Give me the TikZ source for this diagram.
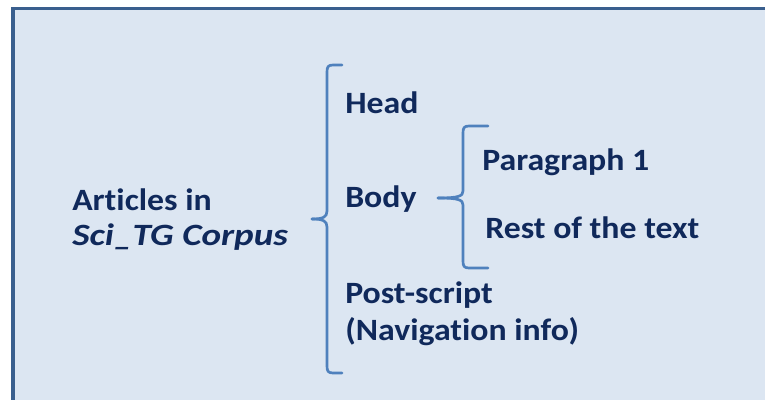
\documentclass[tikz,border=0pt]{standalone}
\usepackage{fontspec}
\setmainfont{Carlito}[FakeStretch=1.09,Ligatures=NoCommon]
\definecolor{bgfill}{HTML}{DCE6F2}
\definecolor{frame}{HTML}{3A5F8E}
\definecolor{txt}{HTML}{10295B}
\definecolor{brace}{HTML}{4F81BD}
\begin{document}
\begin{tikzpicture}[x=0.75pt,y=-0.75pt,
  lbl/.style={anchor=base west,inner sep=0pt,text=txt,font=\fontsize{23.25}{27.5}\selectfont\bfseries},
  bracepath/.style={draw=brace,line width=2pt,line cap=round,line join=round}]
\useasboundingbox (0,0) rectangle (765,400);
\fill[white] (0,0) rectangle (765,400);
\draw[fill=bgfill,draw=frame,line width=2.4pt] (13,8.5) rectangle (775,410);
% texts
\node[lbl] (articles) at (72,210) {Art\kern0pt icles in};
\node[lbl] (corpus) at (72,245) {\scalebox{1.1}[1]{\textit{Sci\_TG Corpus}}};
\node[lbl] (head) at (345,113) {Head};
\node[lbl] (body) at (345,207) {Body};
\node[lbl] (post) at (345,303) {Post-script};
\node[lbl] (nav) at (345,340) {(Navigat\kern0pt ion info)};
\node[lbl] (para) at (482,170) {Paragraph 1};
\node[lbl] (rest) at (485,238) {Rest of the text};
% big brace
\coordinate (b1top) at (342,65);
\coordinate (b1tip) at (312,219);
\coordinate (b1bot) at (342,373);
\draw[bracepath] (b1top) -- (333,65) .. controls (328,65) and (327,67) .. (327,72) -- (327,211)
  .. controls (327,217) and (323,219) .. (b1tip);
\draw[bracepath] (b1bot) -- (333,373) .. controls (328,373) and (327,371) .. (327,366) -- (327,227)
  .. controls (327,221) and (323,219) .. (b1tip);
% small brace
\coordinate (b2top) at (488,126);
\coordinate (b2tip) at (438,198);
\coordinate (b2bot) at (488,268);
\draw[bracepath] (b2top) -- (469,126) .. controls (464,126) and (463,128) .. (463,133) -- (463,191)
  .. controls (463,196) and (459,198) .. (b2tip);
\draw[bracepath] (b2bot) -- (469,268) .. controls (464,268) and (463,266) .. (463,261) -- (463,205)
  .. controls (463,200) and (459,198) .. (b2tip);
\end{tikzpicture}
\end{document}
